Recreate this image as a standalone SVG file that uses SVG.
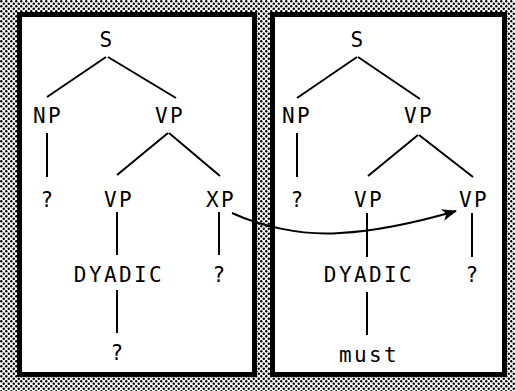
<svg xmlns="http://www.w3.org/2000/svg" width="515" height="391" viewBox="0 0 515 391">
<defs>
<pattern id="stip" width="5" height="5" patternUnits="userSpaceOnUse">
<rect width="5" height="5" fill="#fff"/>
<circle cx="1.25" cy="1.25" r="1.2" fill="#000"/>
<circle cx="3.75" cy="3.75" r="1.2" fill="#000"/>
</pattern>
<marker id="ah" markerWidth="15" markerHeight="12" refX="14" refY="6" orient="auto" markerUnits="userSpaceOnUse">
<path d="M0,0 L15,6 L0,12 L4,6 Z" fill="#000"/>
</marker>
<style>
.t{font-family:"DejaVu Sans Mono","Liberation Mono",monospace;font-size:21px;fill:#000;text-anchor:middle;letter-spacing:2.4px}
.l{stroke:#000;stroke-width:2;fill:none}
.panel{fill:#fff;stroke:#000;stroke-width:5}
</style>
</defs>
<rect width="515" height="391" fill="url(#stip)"/>
<rect class="panel" x="19.5" y="14.5" width="235" height="360"/>
<rect class="panel" x="272.5" y="14.5" width="232" height="360"/>
<g id="connectors">
<path class="l" d="M106,57 L47,97 M108,57 L176,98"/>
<path class="l" d="M47,133 L47,177"/>
<path class="l" d="M168,133 L117,175 M169,133 L220,176"/>
<path class="l" d="M117,212 L117,255 M219,212 L219,255 M117,290 L117,333"/>
<path class="l" d="M357,57 L297,98 M358,57 L420,99"/>
<path class="l" d="M297,133 L297,177"/>
<path class="l" d="M418,135 L368,176 M419,135 L473,177"/>
<path class="l" d="M367,213 L367,257 M472,213 L472,257 M367,292 L367,335"/>
<path class="l" d="M232,213 C258,225 300,236 340,233 C380,231 418,222 456,211" marker-end="url(#ah)"/>
</g>
<g id="left-S"><text class="t" x="107" y="47">S</text></g>
<g id="left-NP"><text class="t" x="48" y="123">NP</text></g>
<g id="left-VP"><text class="t" x="170" y="123">VP</text></g>
<g id="left-NPq"><text class="t" x="48" y="207">?</text></g>
<g id="left-VP2"><text class="t" x="119" y="207">VP</text></g>
<g id="left-XP"><text class="t" x="221" y="207">XP</text></g>
<g id="left-DYADIC"><text class="t" x="119" y="282">DYADIC</text></g>
<g id="left-XPq"><text class="t" x="220" y="282">?</text></g>
<g id="left-Dq"><text class="t" x="118" y="360">?</text></g>
<g id="right-S"><text class="t" x="358" y="47">S</text></g>
<g id="right-NP"><text class="t" x="297" y="123">NP</text></g>
<g id="right-VP"><text class="t" x="419" y="123">VP</text></g>
<g id="right-NPq"><text class="t" x="298" y="207">?</text></g>
<g id="right-VP2"><text class="t" x="369" y="207">VP</text></g>
<g id="right-VP3"><text class="t" x="474" y="207">VP</text></g>
<g id="right-DYADIC"><text class="t" x="369" y="282">DYADIC</text></g>
<g id="right-VP3q"><text class="t" x="473" y="282">?</text></g>
<g id="right-must"><text class="t" x="369" y="362">must</text></g>
</svg>
